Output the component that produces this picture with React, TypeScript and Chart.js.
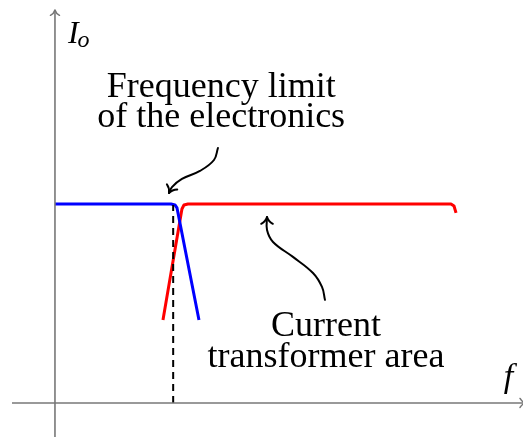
import React, { useEffect, useRef } from "react";
import { Chart, registerables } from "chart.js";

Chart.register(...registerables);

// Data space: f (frequency, cutoff = 1) and I_o (normalised current, plateau = 1)
const X_MIN = -0.458;
const X_MAX = 3.9;
const Y_MIN = -0.171;
const Y_MAX = 2.025;

const xAxisLine = [
  { x: -0.358, y: 0 },
  { x: 3.92, y: 0 },
];
const yAxisLine = [
  { x: 0, y: -0.171 },
  { x: 0, y: 1.975 },
];

// Electronics response (blue)
const electronicsF = [0, 0.967, 1.0, 1.017, 1.2];
const electronicsI = [1, 1, 0.995, 0.98, 0.417];

// Current transformer response (red)
const transformerF = [0.9, 1.058, 1.075, 1.108, 3.3, 3.325, 3.342];
const transformerI = [0.417, 0.975, 0.995, 1, 1, 0.99, 0.955];

// Frequency limit marker (dashed)
const limitF = [0.985, 0.985];
const limitI = [0, 0.995];

// Annotation arrows
const arrow1F = [1.358, 1.325, 1.208, 1.058, 0.975, 0.95];
const arrow1I = [1.281, 1.221, 1.166, 1.126, 1.085, 1.055];
const arrow2F = [2.25, 2.225, 2.15, 1.983, 1.817, 1.767, 1.767];
const arrow2I = [0.518, 0.583, 0.653, 0.734, 0.809, 0.869, 0.935];

// Labels
const label1Lines = ["Frequency limit", "of the electronics"];
const label1Pos = { x: 1.385, y: 1.538 };
const label2Lines = ["Current", "transformer area"];
const label2Pos = { x: 2.258, y: 0.337 };
const yLabelPos = { x: 0.108, y: 1.809 };
const xLabelPos = { x: 3.74, y: 0.08 };

const zip = (xs: number[], ys: number[]) => xs.map((x, i) => ({ x, y: ys[i] }));

function drawArrowHead(ctx: CanvasRenderingContext2D, tx: number, ty: number, fx: number, fy: number, color: string, width: number, len = 8) {
  const ang = Math.atan2(ty - fy, tx - fx);
  const spread = 0.7;
  ctx.save();
  ctx.strokeStyle = color;
  ctx.lineWidth = width;
  ctx.lineCap = "round";
  ctx.beginPath();
  for (const s of [-1, 1]) {
    const a = ang + Math.PI + s * spread;
    const ex = tx + len * Math.cos(a);
    const ey = ty + len * Math.sin(a);
    const ma = ang + Math.PI + s * spread * 0.4;
    const cx = tx + len * 0.5 * Math.cos(ma);
    const cy = ty + len * 0.5 * Math.sin(ma);
    ctx.moveTo(ex, ey);
    ctx.quadraticCurveTo(cx, cy, tx, ty);
  }
  ctx.stroke();
  ctx.restore();
}

const overlayPlugin = {
  id: "overlay",
  afterDatasetsDraw(chart: any) {
    const ctx: CanvasRenderingContext2D = chart.ctx;
    const xs = chart.scales.x;
    const ys = chart.scales.y;
    const px = (v: number) => xs.getPixelForValue(v);
    const py = (v: number) => ys.getPixelForValue(v);

    // axis arrowheads
    drawArrowHead(ctx, px(yAxisLine[1].x), py(yAxisLine[1].y), px(0), py(1.5), "#777777", 1.5, 7);
    drawArrowHead(ctx, px(xAxisLine[1].x), py(0), px(3), py(0), "#777777", 1.5, 7);

    // annotation arrowheads
    const n1 = arrow1F.length - 1;
    drawArrowHead(ctx, px(arrow1F[n1]), py(arrow1I[n1]), px(arrow1F[n1 - 1]), py(arrow1I[n1 - 1]), "#000", 2, 9);
    const n2 = arrow2F.length - 1;
    drawArrowHead(ctx, px(arrow2F[n2]), py(arrow2I[n2]), px(arrow2F[n2 - 1]), py(arrow2I[n2 - 1]), "#000", 2, 9);

    ctx.save();
    ctx.fillStyle = "#000";
    ctx.textBaseline = "alphabetic";
    ctx.textAlign = "center";
    ctx.font = '36px "Liberation Serif"';
    label1Lines.forEach((t, i) => ctx.fillText(t, px(label1Pos.x), py(label1Pos.y) + i * 30));
    label2Lines.forEach((t, i) => ctx.fillText(t, px(label2Pos.x), py(label2Pos.y) + i * 31));

    ctx.textAlign = "left";
    ctx.font = 'italic 32px "Liberation Serif"';
    const ix = px(yLabelPos.x);
    const iy = py(yLabelPos.y);
    ctx.fillText("I", ix, iy);
    const iw = ctx.measureText("I").width;
    ctx.font = 'italic 24px "Liberation Serif"';
    ctx.fillText("o", ix + iw - 1, iy + 4);
    ctx.font = 'italic 34px "Liberation Serif"';
    ctx.fillText("f", px(xLabelPos.x), py(xLabelPos.y));
    ctx.restore();
  },
};

export default function App() {
  const ref = useRef<HTMLCanvasElement | null>(null);

  useEffect(() => {
    document.body.style.margin = "0";
    const canvas = ref.current;
    if (!canvas) return;
    const line = (data: any[], color: string, width: number, extra: any = {}) => ({
      data,
      borderColor: color,
      backgroundColor: color,
      borderWidth: width,
      showLine: true,
      pointRadius: 0,
      fill: false,
      borderJoinStyle: "round",
      borderCapStyle: "butt",
      ...extra,
    });
    const chart = new Chart(canvas, {
      type: "scatter",
      data: {
        datasets: [
          line(xAxisLine, "#777777", 1.6),
          line(yAxisLine, "#777777", 1.6),
          line(zip(limitF, limitI), "#000000", 2, { borderDash: [7, 5] }),
          line(zip(electronicsF, electronicsI), "#0000ff", 3),
          line(zip(transformerF, transformerI), "#ff0000", 3),
          line(zip(arrow1F, arrow1I), "#000000", 2, { tension: 0.4, borderCapStyle: "round" }),
          line(zip(arrow2F, arrow2I), "#000000", 2, { tension: 0.4, borderCapStyle: "round" }),
        ],
      },
      options: {
        responsive: false,
        animation: false,
        devicePixelRatio: 1,
        events: [],
        layout: { padding: 0 },
        plugins: { legend: { display: false }, tooltip: { enabled: false }, title: { display: false } },
        scales: {
          x: { type: "linear", min: X_MIN, max: X_MAX, display: false },
          y: { type: "linear", min: Y_MIN, max: Y_MAX, display: false },
        },
      },
      plugins: [overlayPlugin],
    });
    return () => chart.destroy();
  }, []);

  return (
    <div style={{ position: "fixed", left: 0, top: 0, width: 523, height: 437, background: "#fff" }}>
      <canvas ref={ref} width={523} height={437} style={{ display: "block", width: 523, height: 437 }} />
    </div>
  );
}
